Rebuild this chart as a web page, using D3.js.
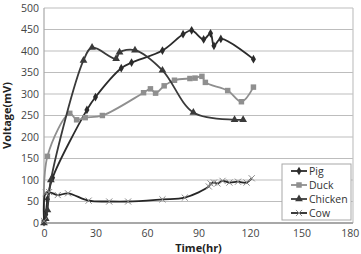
<!DOCTYPE html>
<html>
<head>
<meta charset="utf-8">
<script src="https://cdn.jsdelivr.net/npm/d3@7"></script>
<style>
  body { margin: 0; background: #fff; }
  text { font-family: "Open Sans", "DejaVu Sans", sans-serif; }
</style>
</head>
<body>
<div id="chart"></div>
<script>
var width = 361, height = 254;
var margin = {top: 8, right: 8, bottom: 31, left: 44};

// data
var pig = [[0,2],[1,20],[2,55],[5,105],[25,263],[30,293],[45,360],[51,373],[69,401],[81,439],[86,448],[93,427],[97,441],[99,412],[103,428],[122,381]];
var duck = [[0,2],[2,155],[15,255],[19,240],[24,245],[34,250],[58,303],[62,312],[65,302],[70,319],[76,332],[85,336],[88,337],[92,341],[94,327],[107,308],[115,282],[122,316]];
var chicken = [[0,0],[1,10],[2,30],[4,100],[23,378],[28,408],[42,382],[44,397],[53,402],[69,355],[87,257],[111,240],[116,240]];
var cow = [[0,5],[1,70],[3,72],[8,65],[14,69],[26,52],[38,50],[49,50],[69,55],[82,59],[96,85],[97,92],[99,94],[101,92],[104,98],[108,94],[113,96],[118,94],[121,104]];

var seriesNames = ["Pig", "Duck", "Chicken", "Cow"];
var seriesData = [pig, duck, chicken, cow];
var xTicks = [0, 30, 60, 90, 120, 150, 180];
var yTicks = [0, 50, 100, 150, 200, 250, 300, 350, 400, 450, 500];

var lineColors = ["#2b2b2b", "#8f8f8f", "#3a3a3a", "#262626"];
var markerColors = ["#2b2b2b", "#8f8f8f", "#3a3a3a", "#8a8a8a"];
var markerTypes = ["diamond", "square", "triangle", "cross"];

var svg = d3.select("#chart").append("svg")
    .attr("width", width)
    .attr("height", height);

var x = d3.scaleLinear().domain([0, 180]).range([margin.left, width - margin.right]);
var y = d3.scaleLinear().domain([0, 500]).range([height - margin.bottom, margin.top]);

// grid
svg.selectAll(".grid")
    .data(yTicks)
    .enter().append("line")
    .attr("x1", x(0)).attr("x2", x(180))
    .attr("y1", function(d) { return y(d); })
    .attr("y2", function(d) { return y(d); })
    .attr("stroke", "#bdbdbd")
    .attr("stroke-width", 1.2);

// frame
svg.append("line").attr("x1", x(0)).attr("x2", x(0)).attr("y1", y(0)).attr("y2", y(500))
    .attr("stroke", "#a8a8a8").attr("stroke-width", 1.2);
svg.append("line").attr("x1", x(180)).attr("x2", x(180)).attr("y1", y(0)).attr("y2", y(500))
    .attr("stroke", "#c4c4c4").attr("stroke-width", 1.2);
svg.append("line").attr("x1", x(0)).attr("x2", x(180)).attr("y1", y(0)).attr("y2", y(0))
    .attr("stroke", "#a8a8a8").attr("stroke-width", 2);

// axes
var yAxis = svg.append("g")
    .attr("transform", "translate(" + (margin.left - 5) + ",0)")
    .call(d3.axisLeft(y).tickValues(yTicks).tickSize(0).tickPadding(0));
var xAxis = svg.append("g")
    .attr("transform", "translate(0," + (y(0) + 5) + ")")
    .call(d3.axisBottom(x).tickValues(xTicks).tickSize(0).tickPadding(2));
[xAxis, yAxis].forEach(function(a) {
    a.select(".domain").remove();
    a.selectAll("text")
        .attr("fill", "#444")
        .style("font-size", "10.5px");
});
// keep the last x label inside the window
xAxis.selectAll("text")
    .attr("dx", function(d) { return d === 180 ? "-0.3em" : 0; });

svg.append("text")
    .attr("transform", "translate(11," + y(250) + ") rotate(-90)")
    .attr("text-anchor", "middle")
    .attr("fill", "#222")
    .style("font-size", "11px")
    .style("font-weight", "bold")
    .text("Voltage(mV)");

svg.append("text")
    .attr("x", x(90))
    .attr("y", 252)
    .attr("text-anchor", "middle")
    .attr("fill", "#222")
    .style("font-size", "11px")
    .style("font-weight", "bold")
    .text("Time(hr)");

function markerPath(type) {
    if (type === "diamond") return d3.symbol().type(d3.symbolDiamond).size(22)();
    if (type === "square") return d3.symbol().type(d3.symbolSquare).size(30)();
    if (type === "triangle") return d3.symbol().type(d3.symbolTriangle).size(26)();
    return d3.symbol().type(d3.symbolTimes).size(26)();
}

var line = d3.line()
    .x(function(d) { return x(d[0]); })
    .y(function(d) { return y(d[1]); })
    .curve(d3.curveCatmullRom.alpha(0.5));

seriesData.forEach(function(data, i) {
    svg.append("path")
        .datum(data)
        .attr("fill", "none")
        .attr("stroke", lineColors[i])
        .attr("stroke-width", 1.8)
        .attr("d", line);

    svg.selectAll(".m" + i)
        .data(data)
        .enter().append("path")
        .attr("class", "m" + i)
        .attr("transform", function(d) { return "translate(" + x(d[0]) + "," + y(d[1]) + ")"; })
        .attr("d", markerPath(markerTypes[i]))
        .attr("fill", markerTypes[i] === "cross" ? "none" : markerColors[i])
        .attr("stroke", markerTypes[i] === "cross" ? markerColors[i] : "none")
        .attr("stroke-width", 1);
});

// legend
var legend = svg.append("g").attr("transform", "translate(282,164)");
legend.append("rect")
    .attr("width", 69).attr("height", 56)
    .attr("fill", "#fff")
    .attr("stroke", "#a8a8a8");

var items = legend.selectAll(".item")
    .data(seriesNames)
    .enter().append("g")
    .attr("transform", function(d, i) { return "translate(0," + (7 + i * 14) + ")"; });

items.append("line")
    .attr("x1", 9).attr("x2", 25)
    .attr("stroke", function(d, i) { return lineColors[i]; })
    .attr("stroke-width", 1.8);
items.append("path")
    .attr("transform", "translate(17,0)")
    .attr("d", function(d, i) { return markerPath(markerTypes[i]); })
    .attr("fill", function(d, i) { return markerTypes[i] === "cross" ? "none" : markerColors[i]; })
    .attr("stroke", function(d, i) { return markerTypes[i] === "cross" ? markerColors[i] : "none"; });
items.append("text")
    .attr("x", 27)
    .attr("y", 4)
    .attr("fill", "#333")
    .style("font-size", "10.5px")
    .text(function(d) { return d; });
</script>
</body>
</html>
